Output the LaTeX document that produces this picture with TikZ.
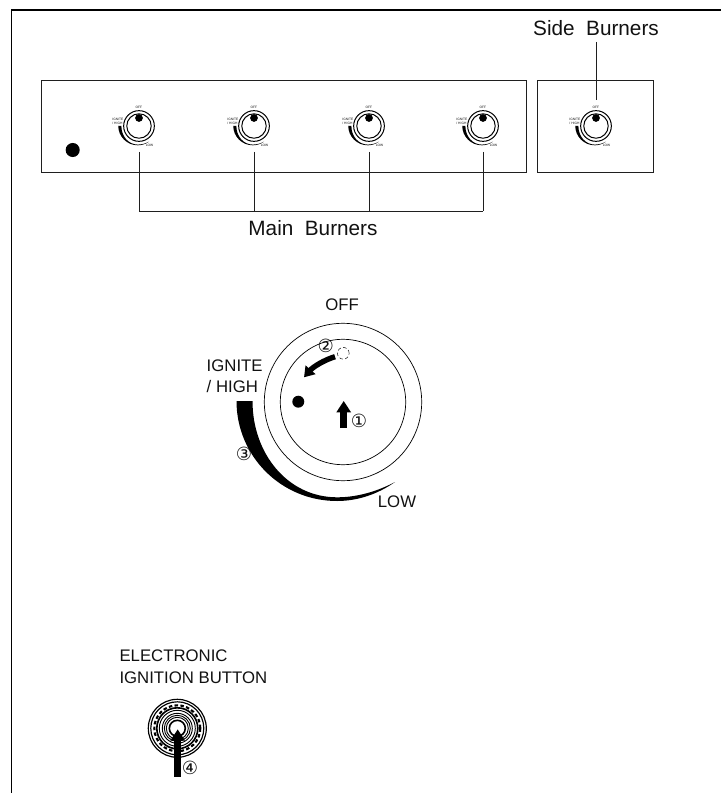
\documentclass[tikz,border=0pt]{standalone}
\usepackage{fontspec}
\setmainfont{Liberation Sans}
\newfontfamily\circfont{DejaVu Sans}
\usetikzlibrary{arrows.meta,positioning,calc}
\definecolor{grillInk}{HTML}{000000}
\definecolor{grillText}{HTML}{111111}
\definecolor{grillPanel}{HTML}{1F1F1F}

\tikzset{
    burnerdial/.pic={
        \draw[ring] (0,0) circle[radius=78.7];
        \draw[ring] (0,0) circle[radius=62.7];
        \fill[grillInk] (-106.5,-1) .. controls (-106.5,54) and (-62,99) .. (-6,99)
            .. controls (15,99) and (35,92) .. (52,80)
            .. controls (35,89) and (15,95.3) .. (-6,95.3)
            .. controls (-55,95.3) and (-90.5,52) .. (-90.5,-1) -- cycle;
        \node[dialtext] (-off) at (-1,-97.7) {OFF};
        \node[dialtext, align=left, anchor=west] (-ignite) at (-136.5,-25.5) {IGNITE\\/ HIGH};
        \node[dialtext] (-low) at (54,100) {LOW};
    }
}

\begin{document}
\begin{tikzpicture}[
        x=0.03cm, y=-0.03cm,
        ring/.style={draw=grillInk, line width=0.6pt},
        frameline/.style={draw=grillInk, line width=1.3pt},
        panel/.style={draw=grillPanel, line width=0.7pt},
        leader/.style={draw=grillPanel, line width=0.6pt},
        dialtext/.style={inner sep=0pt, text=grillText, font=\fontsize{14.3}{17.7}\selectfont},
        burnerlabel/.style={inner sep=0pt, text=grillText, font=\fontsize{17.7}{21}\selectfont},
        steplabel/.style={inner sep=0pt, text=grillText, font=\circfont\fontsize{15.5}{17}\selectfont},
        smalldial/.style={scale=0.195, transform shape, ring/.append style={line width=0.85pt}},
        pusharrow/.style={draw=grillInk, line width=6pt, -{Triangle[length=3.4mm, width=4.2mm]}},
        turnarrow/.style={draw=grillInk, line width=4.6pt, -{Triangle[length=3mm, width=3.8mm]}},
        knobdot/.style={circle, fill=grillInk, inner sep=0pt}
    ]
    \useasboundingbox (0,0) rectangle (721,793);

    \coordinate (framebottom) at (11.5,793);
    \coordinate (framecorner) at (11.5,10);
    \coordinate (frameright) at (721,10);
    \draw[frameline] (framebottom) -- (framecorner) -- (frameright);

    \draw[panel] (41,80) rectangle (526,172);
    \draw[panel] (537,80) rectangle (653.7,172);
    \node[knobdot, minimum size=12pt] (ignitedot) at (72.7,150) {};

    % burner row
    \coordinate (mainbus) at (0,211);
    \foreach \i/\x in {1/139,2/254,3/369,4/483} {
        \pic[smalldial] (dial\i) at (\x,126) {burnerdial};
        \node[knobdot, minimum size=6.6pt] (knob\i) at (\x,118) {};
        \coordinate (lead\i) at (\x,152);
        \draw[leader] (lead\i) -- (lead\i |- mainbus);
    }
    \draw[leader] (lead1 |- mainbus) -- (lead4 |- mainbus);
    \node[burnerlabel] (mainlabel) at (313,228) {Main~~Burners};

    \pic[smalldial] (dial5) at (596,126) {burnerdial};
    \node[knobdot, minimum size=6.6pt] (knob5) at (596,118) {};
    \node[burnerlabel] (sidelabel) at (596,28) {Side~~Burners};
    \coordinate (sidetop) at (596,42);
    \coordinate (sidelow) at (596,100);
    \draw[leader] (sidetop) -- (sidelow);

    % enlarged dial
    \pic (bigdial) at (343,402) {burnerdial};
    \node[knobdot, minimum size=10.2pt] (bigdot) at (298.3,401.7) {};
    \node[circle, draw=grillInk, densely dashed, line width=0.4pt, minimum size=10pt, inner sep=0pt] (oldmark) at (343.3,353.3) {};
    \coordinate (turnstart) at (335,356.7);
    \coordinate (turnend) at (304,377.3);
    \draw[turnarrow] (turnstart) .. controls (324,360) and (313,367) .. (turnend);
    \coordinate (pushstart) at (343.7,428);
    \coordinate (pushend) at (343.7,401);
    \draw[pusharrow] (pushstart) -- (pushend);
    \node[steplabel] (stepone) at (359,421.3) {①};
    \node[steplabel] (steptwo) at (325.7,345.7) {②};
    \node[steplabel] (stepthree) at (244,454) {③};

    % ignition button
    \node[dialtext, align=left, anchor=west, font=\fontsize{14.3}{18.8}\selectfont] (buttonlabel) at (119.3,666.7) {ELECTRONIC\\IGNITION BUTTON};
    \coordinate (buttoncentre) at (177.3,728.3);
    \foreach \r/\w in {29/1,26.5/1,20.5/1.4,18/0.8,15/0.8,13/0.8,11/0.8,8/1.4} {
        \draw[draw=grillInk, line width=\w pt] (buttoncentre) circle[radius=\r];
    }
    \draw[draw=grillInk, line width=1.8pt, densely dashed] (buttoncentre) circle[radius=23];
    \coordinate (buttonstart) at (177.7,776.7);
    \coordinate (buttonend) at (177.7,729.3);
    \draw[pusharrow] (buttonstart) -- (buttonend);
    \node[steplabel] (stepfour) at (190,768) {④};
\end{tikzpicture}
\end{document}
